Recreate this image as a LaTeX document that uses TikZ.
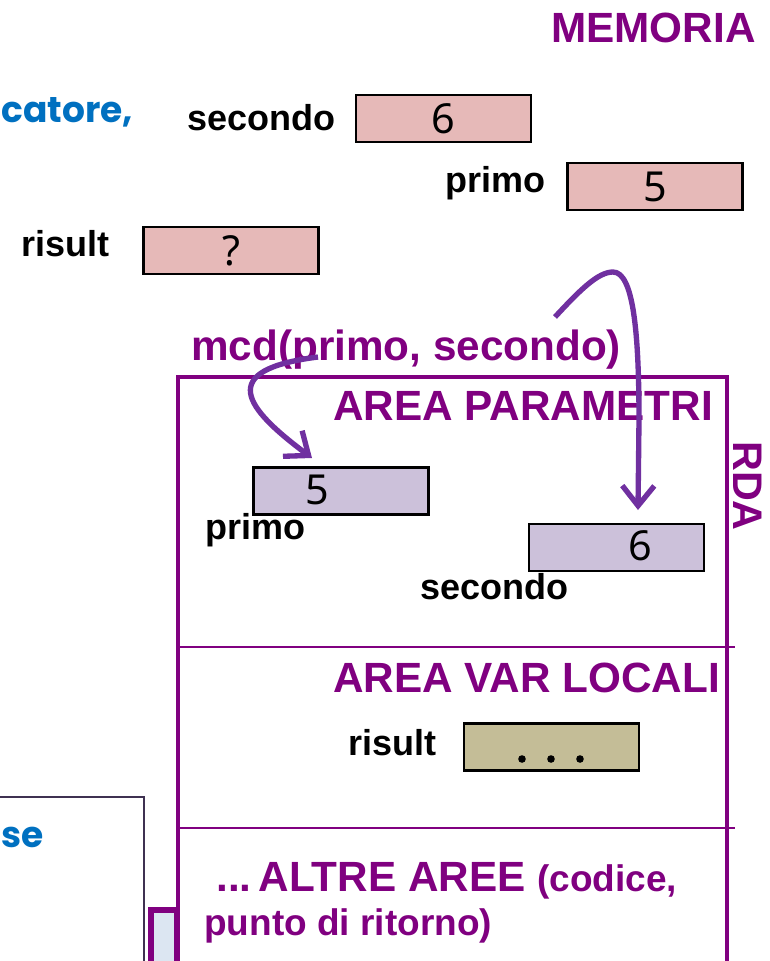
\documentclass[tikz,border=0pt]{standalone}
\usepackage{fontspec}
\setmainfont{Liberation Sans}
\newfontfamily\digfont{Noto Sans}
\newfontfamily\comicfont{Poppins}
\usetikzlibrary{arrows.meta}
\definecolor{txtpurple}{RGB}{128,0,128}
\definecolor{arrpurple}{RGB}{112,48,160}
\definecolor{pinkfill}{RGB}{230,185,184}
\definecolor{lavfill}{RGB}{204,193,218}
\definecolor{khakifill}{RGB}{196,189,151}
\definecolor{lightbluefill}{RGB}{220,230,242}
\definecolor{bluetext}{RGB}{0,112,192}
\definecolor{darkframe}{RGB}{63,49,81}
\begin{document}
\begin{tikzpicture}[x=0.75pt,y=-0.75pt,
  cell/.style={draw=black,line width=1.8pt,minimum width=131.25pt,minimum height=35.25pt,inner sep=0pt},
  memcell/.style={cell,fill=pinkfill},
  parcell/.style={cell,fill=lavfill},
  loccell/.style={cell,fill=khakifill},
  digit/.style={inner sep=0pt,font=\digfont\fontsize{31}{31}\selectfont},
  lbl/.style={anchor=base west,inner sep=0pt,font=\bfseries\fontsize{27}{27}\selectfont},
  heading/.style={anchor=base west,inner sep=0pt,text=txtpurple,font=\bfseries\fontsize{31.7}{31.7}\selectfont},
  bluenote/.style={inner sep=0pt,text=bluetext,font=\comicfont\bfseries\fontsize{27}{27}\selectfont},
  callarrow/.style={draw=arrpurple,line width=4pt,-{Straight Barb[length=15pt,width=24pt]}},
  rdaline/.style={draw=txtpurple,line width=3pt},
  sepline/.style={draw=txtpurple,line width=2pt}
]
\useasboundingbox (0,0) rectangle (769,961);

% left partial frame
\draw[draw=darkframe,line width=2pt] (-10,797) rectangle (144,990);
\node[bluenote,anchor=base west] (se) at (1,847) {se};
\node[bluenote,anchor=base west] (catore) at (1,122) {catore,};

% RDA frame
\draw[rdaline] (178,990) -- (178,377) -- (727,377) -- (727,990);
\draw[sepline] (178,647) -- (735,647);
\draw[sepline] (178,828) -- (735,828);
\draw[draw=txtpurple,line width=4.5pt,fill=lightbluefill] (151,910) rectangle (177,990);

% memory
\node[heading] (memoria) at (551,42) {MEMORIA};
\node[lbl] (lsec) at (187,130) {secondo};
\node[memcell] (msec) at (443.5,118.5) {};
\node[digit] (dmsec) at (443,119) {6};
\node[lbl] (lpri) at (445,192) {primo};
\node[memcell] (mpri) at (655,186.5) {};
\node[digit] (dmpri) at (655,187) {5};
\node[lbl] (lris) at (21,256) {risult};
\node[memcell] (mris) at (231,250.5) {};
\node[digit] (dmris) at (231,251) {?};

% call
\node[heading] (call) at (191,360) {mcd(primo, secondo)};

% parameters area
\node[heading] (apar) at (333,420) {AREA PARAMETRI};
\node[rotate=-90,inner sep=0pt,text=txtpurple,font=\bfseries\fontsize{31}{31}\selectfont] (rda) at (748,486) {RDA};
\node[parcell] (ppri) at (341,491) {};
\node[digit] (dppri) at (317,490) {5};
\node[lbl] (lppri) at (205,539) {primo};
\node[parcell] (psec) at (616.5,547.5) {};
\node[digit] (dpsec) at (640,546) {6};
\node[lbl] (lpsec) at (420,599) {secondo};

% local vars
\node[heading] (aloc) at (333,692) {AREA VAR LOCALI};
\node[lbl] (llris) at (348,755) {risult};
\node[loccell] (lris) at (551.5,747) {};
\foreach \dx in {522,551,580}{\fill (\dx,759) circle (3.8);}

% other areas
\node[heading] (alt) at (216,891) {...\,ALTRE AREE {\fontsize{27.75}{27.75}\selectfont(codice,}};
\node[heading,font=\bfseries\fontsize{27.75}{27.75}\selectfont] (alt2) at (204,935) {punto di ritorno)};

% arrows
\coordinate (a1s) at (318,357);
\coordinate (a1e) at (312,458);
\draw[callarrow] (a1s) .. controls (215,370) and (245,408) .. (a1e);
\coordinate (a2s) at (555,317);
\coordinate (a2p) at (613,272);
\coordinate (a2m) at (639,420);
\coordinate (a2e) at (638,510);
\draw[callarrow] (a2s) .. controls (580,290) and (598,272) .. (a2p) .. controls (633,272) and (639,330) .. (a2m) -- (a2e);
\end{tikzpicture}
\end{document}
